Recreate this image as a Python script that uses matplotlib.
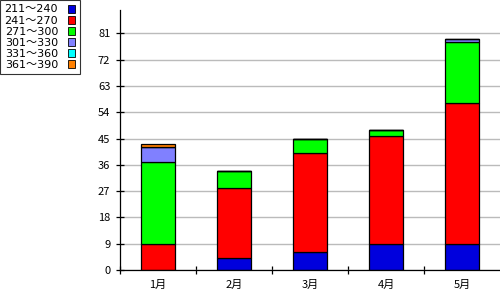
import matplotlib
matplotlib.use("Agg")
import matplotlib.pyplot as plt
from matplotlib.patches import Patch
import numpy as np

plt.rcParams['font.family'] = ['Noto Sans CJK JP', 'DejaVu Sans']

months = ['1月', '2月', '3月', '4月', '5月']
ranges = ['211～240', '241～270', '271～300', '301～330', '331～360', '361～390']
colors = ['#0000DD', '#FF0000', '#00FF00', '#8080FF', '#00FFFF', '#FF8000']

s211 = [0, 4, 6, 9, 9]
s241 = [9, 24, 34, 37, 48]
s271 = [28, 6, 5, 2, 21]
s301 = [5, 0, 0, 0, 1]
s331 = [0, 0, 0, 0, 0]
s361 = [1, 0, 0, 0, 0]
series = [s211, s241, s271, s301, s331, s361]

yticks = [0, 9, 18, 27, 36, 45, 54, 63, 72, 81]

fig = plt.figure(figsize=(5, 3), dpi=100)
ax = fig.add_axes([0.24, 0.1, 0.76, 0.8667])

x = np.arange(len(months))
bottom = np.zeros(len(months))
for vals, c in zip(series, colors):
    vals = np.array(vals, dtype=float)
    ax.bar(x, vals, width=0.46, bottom=bottom, color=c, edgecolor='black',
           linewidth=0.9, zorder=3)
    bottom += vals

ax.set_xlim(-0.5, 4.5)
ax.set_ylim(0, 89)
ax.set_yticks(yticks)
ax.yaxis.grid(True, color='#BBBBBB', linewidth=1.0, zorder=0)
ax.set_xticks(x)
ax.set_xticklabels(months, fontsize=8)
ax.set_xticks(np.arange(-0.5, 4.0, 1.0), minor=True)
ax.tick_params(axis='x', which='major', length=0, pad=7)
ax.tick_params(axis='x', which='minor', direction='inout', length=6, width=0.9)
ax.tick_params(axis='y', direction='inout', length=6, width=0.9, labelsize=8, pad=4)

for side in ['top', 'right']:
    ax.spines[side].set_visible(False)
for side in ['left', 'bottom']:
    ax.spines[side].set_linewidth(0.9)
    ax.spines[side].set_zorder(4)

handles = [Patch(facecolor=c, edgecolor='black', linewidth=0.6) for c in colors]
leg = fig.legend(handles, ranges, loc='upper left', bbox_to_anchor=(0.0, 1.0),
                 markerfirst=False, frameon=True, fancybox=False,
                 prop={'family': ['DejaVu Sans', 'Noto Sans CJK JP'], 'size': 8},
                 handlelength=0.65, handleheight=0.75, handletextpad=0.9,
                 labelspacing=0.1, borderpad=0.4, borderaxespad=0.0)
leg.get_frame().set_edgecolor('black')
leg.get_frame().set_linewidth(0.8)

fig.savefig('out.png', dpi=100)
